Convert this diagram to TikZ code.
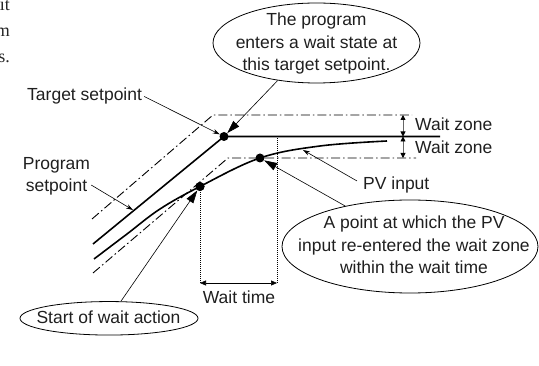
\documentclass[tikz,border=0pt]{standalone}
\usepackage{fontspec}
\setmainfont{Liberation Sans}
\newfontfamily\bodyserif{Liberation Serif}
\usetikzlibrary{shapes.geometric,arrows.meta}

\begin{document}
\begin{tikzpicture}[x=1pt,y=-1pt,
  lbl/.style={font=\fontsize{17.5}{22.5}\selectfont, inner sep=0pt, text=black!88},
  frag/.style={font=\bodyserif\fontsize{18}{26}\selectfont, inner sep=0pt, text=black!85, anchor=base east},
  bubble/.style={draw, ellipse, inner sep=0pt, line width=0.8pt},
  trend/.style={line width=1.6pt},
  zoneline/.style={line width=0.9pt, dash pattern=on 9pt off 3pt on 1.5pt off 3pt},
  guide/.style={line width=0.9pt, dash pattern=on 1pt off 1pt},
  pointer/.style={line width=0.6pt, -{Triangle[length=13pt,width=8pt]}},
  leader/.style={line width=0.6pt, -{Stealth[length=7pt,width=4.5pt]}},
  dot/.style={circle, fill, inner sep=0pt, minimum size=9pt},
  span/.style={line width=0.6pt, {Triangle[length=6pt,width=5pt]}-{Triangle[length=6pt,width=5pt]}},
  zspan/.style={line width=0.8pt, black!60, {Triangle[length=5pt,width=5pt,black]}-{Triangle[length=5pt,width=5pt,black]}},
]
\useasboundingbox (0,0) rectangle (539,366);
\clip (0,0) rectangle (539,366);

% tail of the preceding paragraph
\node[frag] (fr1) at (10,11) {it};
\node[frag] (fr2) at (10,37) {m};
\node[frag] (fr3) at (10,63) {s.};

% wait zone band (dash-dot)
\draw[zoneline] (92,219) -- (213,115) -- (412,115);
\draw[zoneline] (93,273) -- (228,158) -- (416,158);

% program setpoint ramp and target setpoint
\coordinate (rampstart) at (93,244);
\coordinate (flatend) at (440,136.5);
\node[dot] (ts) at (224,136.5) {};
\draw[trend] (rampstart) -- (ts.center) -- (flatend);

% PV input
\draw[trend] plot[smooth, tension=0.6] coordinates
  {(94,259) (127,234) (160,209) (200,186.5) (260,158) (320,146) (387,141)};

% wait time guides
\coordinate (wtl) at (200,283);
\coordinate (wtr) at (277,283);
\coordinate (wtt) at (277,136.5);
\node[dot] (sd) at (200,186.5) {};
\node[dot] (rd) at (260,158) {};
\draw[guide] (sd.center) -- (wtl);
\draw[guide] (wtt) -- (wtr);
\draw[span] (wtl) -- (wtr);
\node[dot] at (sd) {};

% wait zone dimension arrows
\coordinate (wzt) at (403,115);
\coordinate (wzm) at (403,136.5);
\coordinate (wzb) at (403,158);
\draw[zspan] (wzt) -- (wzm);
\draw[zspan] (wzm) -- (wzb);

% labels (multi-line nodes are anchored at the baseline of their last line)
\node[lbl, anchor=base west] (wz1) at (415,130.5) {Wait zone};
\node[lbl, anchor=base west] (wz2) at (415,154) {Wait zone};
\node[lbl, anchor=base] (wt) at (239,304) {Wait time};
\node[lbl, anchor=base west] (tsl) at (27,101) {Target setpoint};
\node[lbl, anchor=base west] (pvl) at (363,190) {PV input};
\node[lbl, align=center, anchor=base] (psp) at (56.5,192) {Program\\setpoint};

% label leaders
\coordinate (sptip) at (133,210);
\coordinate (pvtip) at (303,150);
\draw[leader] ([xshift=2pt]tsl.east) -- (ts);
\draw[leader] ([xshift=1pt,yshift=-8.5pt]psp.east) -- (sptip);
\draw[leader] ([xshift=-6pt,yshift=4.5pt]pvl.west) -- (pvtip);

% callouts
\node[bubble, minimum width=207pt, minimum height=80pt] (enter) at (316.5,43) {};
\node[lbl, align=center, anchor=base] (entertxt) at (316.5,71)
  {The program\\enters a wait state at\\this target setpoint.};
\draw[pointer] (enter.224) -- (ts);

\node[bubble, minimum width=256pt, minimum height=93pt] (reent) at (410,246.5) {};
\node[lbl, align=center, anchor=base] (reenttxt) at (414,274)
  {A point at which the PV\\input re-entered the wait zone\\within the wait time};
\draw[pointer] (reent.148) -- (rd);

\node[bubble, minimum width=178pt, minimum height=33.5pt] (sw) at (109,318.3) {};
\node[lbl, anchor=base] (swtxt) at (108.5,323.3) {Start of wait action};
\draw[pointer] (sw.55) -- (sd);
\end{tikzpicture}
\end{document}
